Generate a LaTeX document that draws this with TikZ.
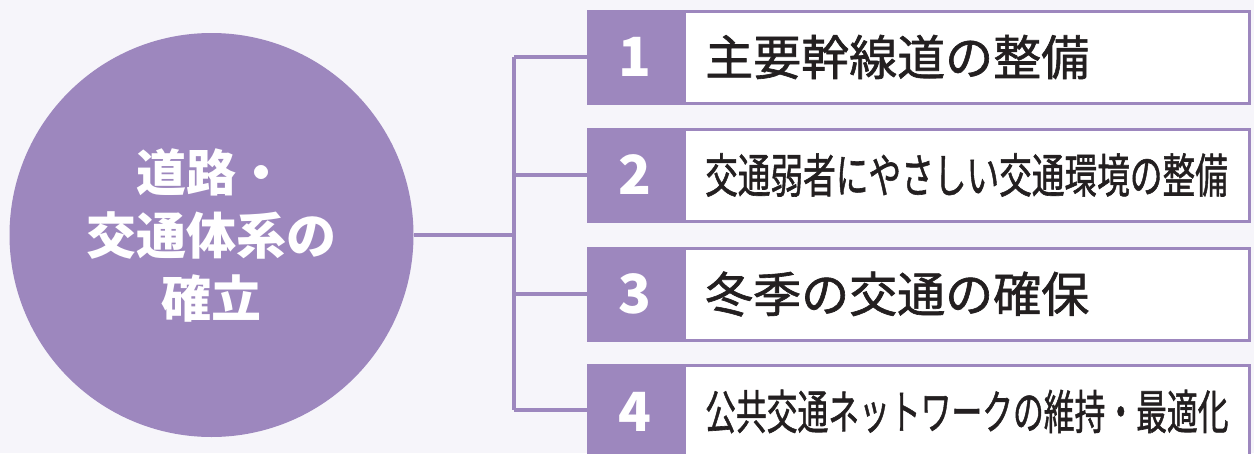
\documentclass[tikz,border=0pt]{standalone}
\usepackage{fontspec}
\usepackage{graphicx}
\newfontfamily\jp{Noto Sans CJK JP}
\newfontfamily\jpm{Noto Sans CJK JP}[FakeBold=1.3]
\definecolor{pur}{HTML}{9D87BE}
\definecolor{bg}{HTML}{F6F5FA}
\definecolor{ink}{HTML}{231F20}
\tikzset{
  hub/.style={circle, fill=pur, minimum size=404pt, inner sep=0pt, text=white, align=center,
    font=\jp\bfseries\fontsize{50}{63}\selectfont},
  numbox/.style={rectangle, fill=pur, minimum width=96pt, minimum height=95pt, inner sep=0pt,
    text=white, font=\jp\bfseries\fontsize{54}{54}\selectfont},
  txtbox/.style={rectangle, draw=pur, line width=3pt, fill=white, minimum width=565pt,
    minimum height=92pt, inner sep=0pt, anchor=west},
  lblbig/.style={anchor=west, inner sep=0pt, text=ink, font=\jpm\fontsize{48}{48}\selectfont},
  lblsmall/.style={anchor=west, inner sep=0pt, text=ink, font=\jpm\fontsize{47}{47}\selectfont},
  link/.style={draw=pur, line width=4.5pt}
}
\begin{document}
\begin{tikzpicture}[x=1pt,y=-1pt]
\useasboundingbox (0,0) rectangle (1254,453);
\clip (0,0) rectangle (1254,453);
\fill[bg] (0,0) rectangle (1254,453);

\node[hub] (c) at (211.5,235) {道路・\\交通体系の\\確立};

% boxes
\foreach \i/\y in {1/57,2/175,3/294,4/411.5}{
  \node[txtbox] (b\i) at (683,\y) {};
  \node[numbox] (n\i) at (635,\y) {\i};
}
\node[lblbig] (l1) at ([xshift=22pt]b1.west) {主要幹線道の整備};
\node[lblsmall] (l2) at ([xshift=22pt]b2.west) {\scalebox{0.695}[1]{交通弱者にやさしい交通環境の整備}};
\node[lblbig] (l3) at ([xshift=22pt]b3.west) {冬季の交通の確保};
\node[lblsmall] (l4) at ([xshift=22pt]b4.west) {\scalebox{0.655}[1]{公共交通ネットワークの維持・最適化}};

% connectors
\coordinate (j) at (514,235);
\draw[link] (c.east) -- (j);
\draw[link] (j |- n1.west) -- (j |- 0,410);
\draw[link] (j |- n1.west) -- (n1.west);
\draw[link] (j |- n2.west) -- (n2.west);
\draw[link] (j |- n3.west) -- (n3.west);
\draw[link] (j |- 0,410) -- (n4.west |- 0,410);
\end{tikzpicture}
\end{document}
